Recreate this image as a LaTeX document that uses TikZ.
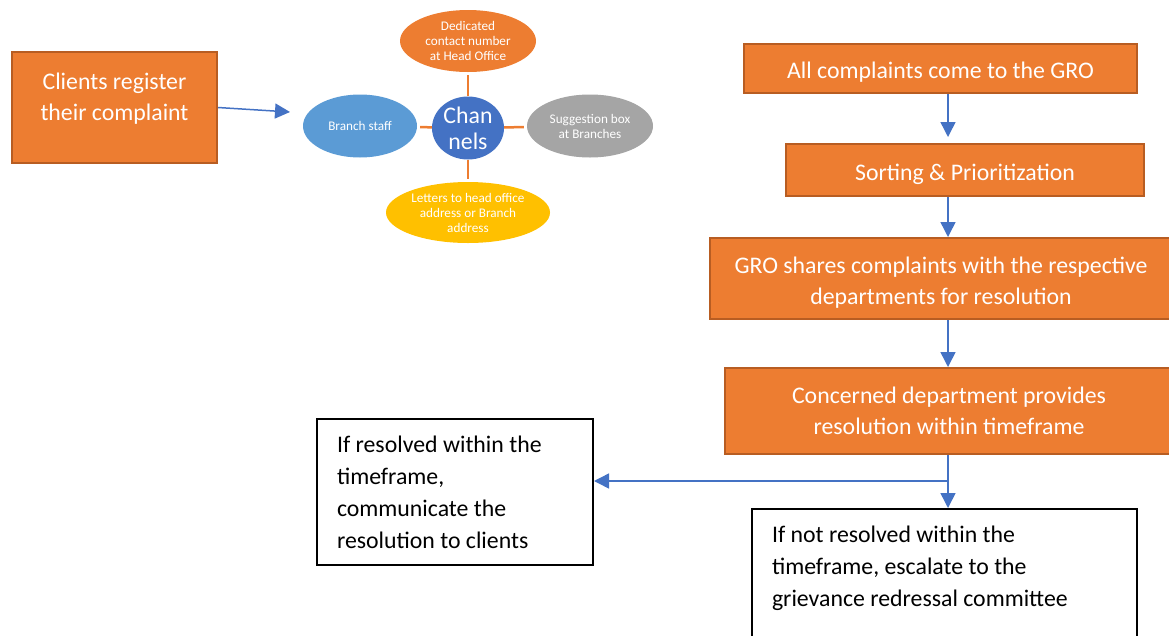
\documentclass[tikz,border=0pt]{standalone}
\usepackage{fontspec}
\setmainfont{Carlito}
\usetikzlibrary{shapes.geometric,arrows.meta}
\definecolor{boxorange}{HTML}{ED7D31}
\definecolor{boxedge}{HTML}{B85D22}
\definecolor{flowblue}{HTML}{4472C4}
\definecolor{staffblue}{HTML}{5B9BD5}
\definecolor{boxgrey}{HTML}{A5A5A5}
\definecolor{boxgold}{HTML}{FFC000}
\tikzset{
  stepbox/.style={draw=boxedge,line width=2pt,fill=boxorange,text=white,align=center,
    inner sep=0pt,font=\fontsize{23.8}{31}\selectfont},
  notebox/.style={draw=black,line width=2pt,fill=white,align=flush left,inner xsep=20pt,
    font=\fontsize{23.8}{32}\selectfont},
  channel/.style={ellipse,inner sep=0pt,text=white,align=center,
    font=\fontsize{13.2}{15}\selectfont},
  spoke/.style={boxorange,line width=2.5pt,shorten >=3pt},
  flow/.style={flowblue,line width=1.5pt,-{Triangle[length=15pt,width=15pt]}}
}
\begin{document}
\begin{tikzpicture}[x=1pt,y=-1pt]
  \useasboundingbox (0,0) rectangle (1169,635);
  \node[stepbox,minimum width=205pt,minimum height=111pt,text depth=22pt] (clients)
    at (114.5,107.5) {Clients register\\their complaint};
  \node[channel,fill=flowblue,minimum width=72pt,minimum height=63pt,
    font=\fontsize{23.8}{26}\selectfont] (hub) at (468,128) {Chan\\nels};
  \node[channel,fill=boxorange,minimum width=136pt,minimum height=62pt] (dedicated) at (468,41)
    {Dedicated\\contact number\\at Head Office};
  \node[channel,fill=staffblue,minimum width=114pt,minimum height=63pt] (branch) at (360,126)
    {Branch staff};
  \node[channel,fill=boxgrey,minimum width=126pt,minimum height=63pt] (suggestion) at (590,126)
    {Suggestion box\\at Branches};
  \node[channel,fill=boxgold,minimum width=164pt,minimum height=61pt] (letters) at (468,212.5)
    {Letters to head office\\address or Branch\\address};
  \draw[spoke] (hub) -- (dedicated);
  \draw[spoke] (hub) -- (branch);
  \draw[spoke] (hub) -- (suggestion);
  \draw[spoke] (hub) -- (letters);
  \coordinate (staffin) at (290,112);
  \draw[flow] (clients.east) -- (staffin);

  \node[stepbox,minimum width=393pt,minimum height=49pt,text height=24.5pt] (gro)
    at (940.5,68.5) {All complaints come to the GRO};
  \node[stepbox,minimum width=358pt,minimum height=52pt,text height=24.5pt] (sorting)
    at (965,170) {Sorting \& Prioritization};
  \node[stepbox,minimum width=462pt,minimum height=81pt,text height=56pt] (shares)
    at (941,278.5)
    {GRO shares complaints with the respective\\departments for resolution};
  \node[stepbox,minimum width=448pt,minimum height=86pt] (concerned) at (949,411)
    {Concerned department provides\\resolution within timeframe};
  \node[notebox,text width=236pt,minimum height=146pt] (resolved) at (455,492)
    {If resolved within the\\timeframe,\\communicate the\\resolution to clients};
  \node[notebox,text width=345pt,inner ysep=17pt,text depth=100pt,anchor=north] (escalate)
    at (944.5,508)
    {If not resolved within the\\timeframe, escalate to the\\grievance redressal committee};

  \coordinate (spine) at (948,0);
  \coordinate (split) at (948,481);
  \draw[flow,shorten >=6pt] (gro.south -| spine) -- (sorting.north -| spine);
  \draw[flow] (sorting.south -| spine) -- (shares.north -| spine);
  \draw[flow] (shares.south -| spine) -- (concerned.north -| spine);
  \draw[flow] (concerned.south -| spine) -- (escalate.north -| spine);
  \draw[flow] (split) -- (split -| resolved.east);
\end{tikzpicture}
\end{document}
